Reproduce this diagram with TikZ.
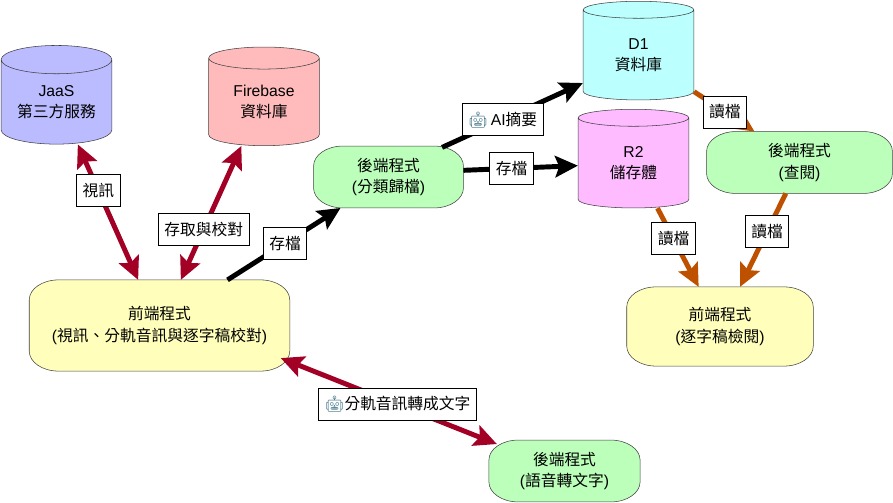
\documentclass[tikz,border=0pt]{standalone}
\usepackage{fontspec}
\usepackage{xcolor}
\setmainfont{Liberation Sans}
\newfontfamily\cjk{Noto Sans CJK TC}
\newfontfamily\botfont{Noto Emoji}
\usetikzlibrary{arrows.meta,shapes.geometric,backgrounds}
\definecolor{jaasblue}{HTML}{BBBBFF}
\definecolor{firepink}{HTML}{FFBBBB}
\definecolor{docyan}{HTML}{BBFFFF}
\definecolor{rmagenta}{HTML}{FFBBFF}
\definecolor{backgreen}{HTML}{BBFFBB}
\definecolor{frontyellow}{HTML}{FFFFBB}
\definecolor{crimson}{HTML}{A20025}
\definecolor{rust}{HTML}{BD5100}
\definecolor{botteal}{HTML}{47788A}
\newcommand{\zh}[1]{{\cjk #1}}
\newcommand{\robot}{{\botfont\color{botteal}🤖}}

\begin{document}
\begin{tikzpicture}[x=.75pt,y=-.75pt,
                    every node/.style={font=\fontsize{11.8}{15.8}\selectfont, align=center},
                    store/.style={draw=black!75, cylinder, shape border rotate=90, shape aspect=.36,
                                  minimum width=83pt, minimum height=74pt, inner sep=0pt},
                    soft/.style={minimum width=#1, minimum height=46pt, inner sep=0pt},
                    tag/.style={draw=black, fill=white, line width=.7pt, minimum height=24pt, inner xsep=4.5pt, inner ysep=0pt},
                    link/.style={line width=3.7pt, >={Stealth[length=17pt,width=16pt,inset=3pt]}},
                    ]

\useasboundingbox (0,0) rectangle (893,503);

\node[store, fill=jaasblue] (jaas) at (56.5,102) {JaaS\\\zh{第三方服務}};
\node[store, fill=firepink] (firebase) at (264,102) {Firebase\\\zh{資料庫}};
\node[store, fill=docyan] (d1) at (638.5,55) {D1\\\zh{資料庫}};
\node[store, fill=rmagenta] (r2) at (633.5,163) {R2\\\zh{儲存體}};

\node[soft=195pt, minimum height=68pt] (front) at (159.5,325.5) {\zh{前端程式}\\(\zh{視訊、分軌音訊與逐字稿校對})};
\node[soft=112pt] (sorter) at (388.5,177) {\zh{後端程式}\\(\zh{分類歸檔})};
\node[soft=139pt] (viewer) at (799.5,162.5) {\zh{後端程式}\\(\zh{查閱})};
\node[soft=139.5pt, minimum height=59pt] (reader) at (720,326.5) {\zh{前端程式}\\(\zh{逐字稿檢閱})};
\node[soft=113pt] (speech) at (564.5,471) {\zh{後端程式}\\(\zh{語音轉文字})};

\begin{scope}[on background layer]
\foreach \n/\c in {front/frontyellow,sorter/backgreen,viewer/backgreen,reader/frontyellow,speech/backgreen}
  \draw[draw=black!75, fill=\c]
    ([yshift=-15pt]\n.north west) arc[start angle=180, end angle=90, x radius=22pt, y radius=15pt]
    -- ([xshift=-22pt]\n.north east) arc[start angle=90, end angle=0, x radius=22pt, y radius=15pt]
    -- ([yshift=15pt]\n.south east) arc[start angle=0, end angle=-90, x radius=22pt, y radius=15pt]
    -- ([xshift=22pt]\n.south west) arc[start angle=-90, end angle=-180, x radius=22pt, y radius=15pt]
    -- cycle;
\end{scope}

\draw[link, crimson, <->] ([xshift=16pt]jaas.south) -- ([xshift=-16pt]front.north) node[tag, text=black, pos=.34]{\zh{視訊}};
\draw[link, crimson, <->] ([xshift=-17pt]firebase.south) -- ([xshift=16pt]front.north) node[tag, text=black, pos=.62]{\zh{存取與校對}};
\draw[link, crimson, <->] ([shift={(-9,-13)}]front.south east) -- ([shift={(8,4)}]speech.north west) node[tag, text=black, pos=.54]{\robot\zh{分軌音訊轉成文字}};

\draw[link, ->] ([xshift=51pt]front.north) -- ([shift={(27,0)}]sorter.south west) node[tag, pos=.51]{\zh{存檔}};
\draw[link, ->] ([xshift=-16pt,yshift=-1pt]sorter.north east) -- ([yshift=-21pt]d1.west) node[tag, pos=.43]{\robot\,AI\zh{摘要}};
\draw[link, ->] ([yshift=5pt]sorter.east) -- ([yshift=-2pt]r2.west) node[tag, pos=.42]{\zh{存檔}};

\draw[link, rust, ->] ([yshift=-27.5pt]d1.east) -- ([xshift=36pt]viewer.north west) node[tag, text=black, pos=.51]{\zh{讀檔}};
\draw[link, rust, ->] ([xshift=18pt]r2.south) -- ([xshift=-16pt]reader.north) node[tag, text=black, pos=.39]{\zh{讀檔}};
\draw[link, rust, ->] ([xshift=-80pt]viewer.south east) -- ([xshift=15pt]reader.north) node[tag, text=black, pos=.41]{\zh{讀檔}};

\end{tikzpicture}
\end{document}
